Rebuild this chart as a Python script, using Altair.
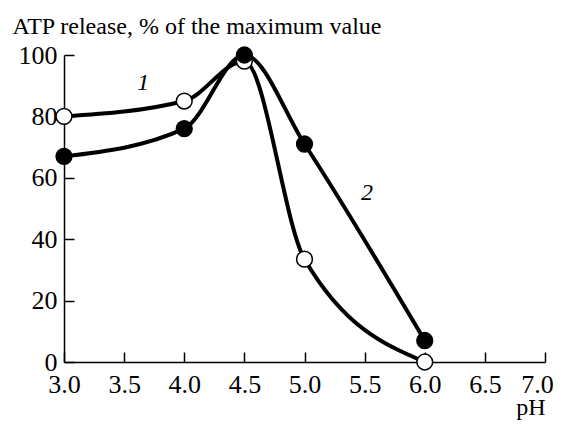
import altair as alt
import pandas as pd

# Data
ph = [3.0, 4.0, 4.5, 5.0, 6.0]
series1_open = [80, 85, 98, 33.5, 0]
series2_filled = [67, 76, 100, 71, 7]

label_text = ["1", "2"]
label_x = [3.66, 5.52]
label_y = [91, 55]

x_tick_values = [3.0, 3.5, 4.0, 4.5, 5.0, 5.5, 6.0, 6.5, 7.0]
y_tick_values = [0, 20, 40, 60, 80, 100]

W, H = 481, 307
FONT = "Liberation Serif"

rows = []
for p, v in zip(ph, series1_open):
    rows.append({"ph": p, "val": v, "series": "1"})
for p, v in zip(ph, series2_filled):
    rows.append({"ph": p, "val": v, "series": "2"})
df = pd.DataFrame(rows)

lab = pd.DataFrame({"ph": label_x, "val": label_y, "t": label_text})

xs = alt.Scale(domain=[3, 7], nice=False, zero=False)
ys = alt.Scale(domain=[0, 100], nice=False)

x_main = alt.X(
    "ph:Q", scale=xs,
    axis=alt.Axis(orient="bottom", values=x_tick_values, format=".1f", ticks=False,
                  grid=False, labelPadding=9, domainWidth=1.5, labelFlush=False,
                  labelOverlap=False,
                  labelOffset={"condition": {"test": "datum.value >= 7", "value": -8}, "value": 0},
                  title="pH", titleX=W, titleY=52, titleAlign="right",
                  titleBaseline="alphabetic", titleFontWeight="normal"))
y_main = alt.Y(
    "val:Q", scale=ys,
    axis=alt.Axis(orient="left", values=y_tick_values, ticks=False, grid=False,
                  labelPadding=7, domainWidth=1.5, labelFlush=False, labelOverlap=False,
                  title="ATP release, % of the maximum value", titleAngle=0,
                  titleX=-52, titleY=-22, titleAlign="left",
                  titleBaseline="alphabetic", titleFontWeight="normal"))

lines = alt.Chart(df).mark_line(interpolate="monotone", strokeWidth=4, color="black").encode(
    x=x_main, y=y_main, detail="series:N")

points = alt.Chart(df).mark_point(shape="circle", filled=True, size=250, stroke="black",
                                  strokeWidth=1.5, opacity=1).encode(
    x=alt.X("ph:Q", scale=xs),
    y=alt.Y("val:Q", scale=ys),
    fill=alt.Fill("series:N", scale=alt.Scale(domain=["1", "2"], range=["white", "black"]),
                  legend=None))

main = alt.layer(lines, points)

labels = alt.Chart(lab).mark_text(font=FONT, fontSize=24, fontStyle="italic", color="black").encode(
    x=alt.X("ph:Q", scale=xs,
            axis=alt.Axis(orient="top", offset=-H, values=x_tick_values, labels=False,
                          domain=False, grid=False, tickSize=10, tickWidth=1.5, title="")),
    y=alt.Y("val:Q", scale=ys,
            axis=alt.Axis(orient="right", offset=-W, values=y_tick_values, labels=False,
                          domain=False, grid=False, tickSize=10, tickWidth=1.5, title="")),
    text="t:N")

chart = alt.layer(main, labels).resolve_axis(x="independent", y="independent").properties(
    width=W, height=H,
    autosize=alt.AutoSizeParams(type="none"),
    padding={"left": 56, "top": 47, "right": 9, "bottom": 58},
).configure_view(stroke=None).configure_axis(
    labelFont=FONT, labelFontSize=26, labelColor="black",
    titleFont=FONT, titleFontSize=24, titleColor="black",
    domainColor="black", tickColor="black",
)

chart.save("out.html", embed_options={"renderer": "svg", "actions": False})
